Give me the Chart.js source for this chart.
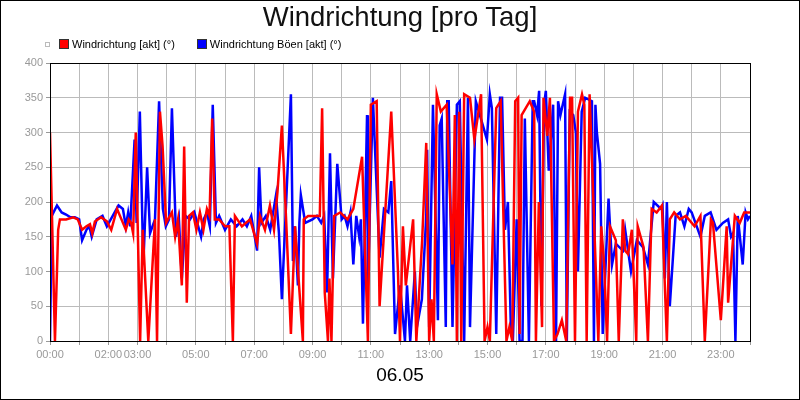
<!DOCTYPE html>
<html><head><meta charset="utf-8">
<script src="https://cdn.jsdelivr.net/npm/chart.js@4"></script>
<style>
body{margin:0;background:#fff;font-family:"Liberation Sans",Arial,sans-serif}
#wrap{position:relative;width:800px;height:400px}
#frame{position:absolute;left:0;top:0;width:798px;height:398px;border:1px solid #000;pointer-events:none}
#title{position:absolute;left:0;width:800px;top:1px;text-align:center;font-size:27.5px;color:#111}
#legend{position:absolute;top:38px;left:45px;font-size:11px;color:#000;display:flex;align-items:center}
.sq{display:inline-block;width:8px;height:8px;border:1px solid #333;margin-right:3px}
#xt{position:absolute;left:0;width:800px;top:364px;text-align:center;font-size:19px;color:#000}
</style></head><body>
<div id="wrap"><canvas id="c" width="800" height="400"></canvas>
<div id="title">Windrichtung [pro Tag]</div>
<div id="legend"><span class="sq" style="width:3px;height:3px;border-color:#bbb;margin-right:9px"></span><span class="sq" style="background:#f00"></span>Windrichtung [akt] (°)<span style="width:22px"></span><span class="sq" style="background:#00f"></span>Windrichtung Böen [akt] (°)</div>
<div id="xt">06.05</div>
<div id="frame"></div></div>
<script>
const tickHours=[0,2,3,5,7,9,11,13,15,17,19,21,23];
const redTimes=[0,0.03,0.17,0.28,0.34,0.55,0.8,0.95,1.1,1.25,1.37,1.45,1.54,1.75,1.95,2.1,2.3,2.45,2.6,2.7,2.78,2.85,2.94,3.09,3.18,3.37,3.6,3.67,3.77,3.86,3.98,4.18,4.29,4.39,4.52,4.6,4.69,4.77,4.9,5.02,5.14,5.26,5.38,5.47,5.56,5.65,5.8,6.0,6.15,6.27,6.34,6.58,6.86,7.1,7.2,7.37,7.54,7.68,7.8,7.95,8.1,8.26,8.4,8.67,8.7,8.85,9.25,9.33,9.42,9.53,9.58,9.65,9.74,9.95,10.2,10.4,10.7,10.9,11.0,11.2,11.3,11.7,11.93,12.0,12.1,12.2,12.45,12.56,12.76,12.9,13.0,13.08,13.16,13.26,13.4,13.6,13.8,13.88,13.95,14.03,14.1,14.2,14.4,14.55,14.78,14.9,15.0,15.08,15.3,15.45,15.65,15.75,15.85,15.95,16.05,16.1,16.17,16.45,16.6,16.66,16.76,16.87,16.92,17.05,17.14,17.28,17.4,17.55,17.7,17.83,17.9,18.0,18.1,18.24,18.32,18.4,18.5,18.8,18.9,19.0,19.1,19.2,19.4,19.5,19.64,19.72,19.82,19.95,20.1,20.15,20.35,20.5,20.63,20.8,20.98,21.15,21.25,21.4,21.6,21.8,22.1,22.3,22.45,22.66,22.73,23.0,23.2,23.25,23.48,23.65,23.8,24.0];
const redValues=[300,300,0,160,175,175,178,175,160,165,168,155,172,178,172,160,190,175,160,175,170,155,300,0,160,0,175,0,330,280,170,185,150,175,80,280,55,180,185,160,185,160,190,180,320,175,175,165,165,0,180,165,175,140,180,160,195,160,215,310,170,10,165,0,175,180,180,335,70,0,90,0,180,185,175,190,265,0,340,345,50,330,100,0,165,80,175,0,145,285,0,60,0,355,330,340,110,325,0,330,0,355,350,290,355,0,20,0,335,345,0,20,0,345,350,10,325,345,330,0,200,20,350,295,350,0,10,30,0,350,350,0,330,355,340,0,355,0,165,110,0,165,145,0,175,130,125,160,0,165,135,0,190,185,195,0,175,185,175,180,165,180,0,175,170,30,165,55,180,170,185,185];
const blueTimes=[0,0.06,0.24,0.4,0.55,0.7,0.85,1.0,1.1,1.25,1.35,1.43,1.6,1.8,1.95,2.15,2.35,2.5,2.6,2.68,2.75,2.9,2.97,3.08,3.2,3.33,3.43,3.6,3.74,3.87,3.97,4.08,4.18,4.32,4.42,4.52,4.65,4.8,4.95,5.18,5.27,5.38,5.48,5.58,5.69,5.8,6.0,6.2,6.4,6.6,6.75,6.9,7.1,7.17,7.25,7.4,7.55,7.75,7.85,7.95,8.26,8.33,8.4,8.5,8.55,8.6,8.75,9.0,9.15,9.3,9.4,9.5,9.6,9.7,9.85,10.0,10.1,10.2,10.3,10.4,10.5,10.6,10.66,10.73,10.87,10.9,11.07,11.3,11.45,11.6,11.7,11.83,12.0,12.17,12.24,12.35,12.51,12.58,12.75,12.9,12.93,13.0,13.13,13.3,13.36,13.43,13.57,13.62,13.67,13.8,13.95,14.05,14.2,14.33,14.4,14.6,14.98,15.08,15.15,15.3,15.43,15.5,15.6,15.7,15.8,15.87,16.0,16.1,16.2,16.28,16.42,16.55,16.6,16.7,16.77,16.85,16.94,17.0,17.1,17.25,17.35,17.42,17.5,17.66,17.72,17.82,17.94,18.03,18.1,18.23,18.35,18.58,18.65,18.7,18.75,18.86,18.95,19.06,19.15,19.27,19.4,19.64,19.72,19.92,20.12,20.33,20.5,20.7,20.95,21.0,21.08,21.15,21.25,21.45,21.6,21.75,21.9,22.0,22.3,22.45,22.65,22.85,23.07,23.25,23.35,23.42,23.5,23.58,23.75,23.85,23.93,24.0];
const blueValues=[0,180,195,185,182,178,178,175,145,160,165,150,175,180,165,180,195,190,165,185,165,290,170,330,110,250,155,175,345,190,165,175,335,150,175,90,180,175,185,150,175,185,165,340,170,180,160,175,165,175,165,180,130,250,170,180,160,210,155,60,355,115,165,80,170,210,170,175,180,170,180,70,270,90,255,175,180,165,185,110,180,150,175,25,325,80,350,120,190,185,230,10,80,0,80,0,100,20,60,180,275,20,340,30,310,320,20,345,345,20,340,345,0,350,20,345,290,355,335,10,350,350,160,200,20,0,175,0,0,320,0,345,345,325,360,50,340,360,245,340,0,345,325,355,0,330,325,300,100,330,350,345,0,340,300,255,10,120,205,110,140,130,160,100,145,135,110,200,190,195,90,200,50,180,185,165,190,185,150,180,185,160,170,175,150,155,0,180,110,185,175,180,75,160];
const toPts=(t,v)=>t.map((x,i)=>({x:x,y:v[i]}));
const border={id:'b',afterDraw(c){const a=c.chartArea,g=c.ctx;g.save();g.strokeStyle='#000';g.lineWidth=1;g.strokeRect(a.left+0.5,a.top+0.5,a.right-a.left,a.bottom-a.top);g.restore();}};
new Chart(document.getElementById('c'),{type:'line',
data:{datasets:[
{label:'Windrichtung [akt] (°)',data:toPts(redTimes,redValues),borderColor:'#ff0000',borderWidth:2.5,pointRadius:0,tension:0,order:0},
{label:'Windrichtung Böen [akt] (°)',data:toPts(blueTimes,blueValues),borderColor:'#0000ff',borderWidth:2.5,pointRadius:0,tension:0,order:1}]},
options:{responsive:false,animation:false,layout:{padding:{top:63,right:50,left:0,bottom:0}},
plugins:{legend:{display:false},tooltip:{enabled:false}},
scales:{
x:{type:'linear',min:0,max:24,afterFit(s){s.height=59},
 ticks:{stepSize:1,autoSkip:false,maxRotation:0,color:'#999',font:{size:11,family:'Liberation Sans'},callback:v=>tickHours.includes(v)?String(v).padStart(2,'0')+':00':''},
 grid:{color:'#bbb',tickLength:4,tickColor:'#999'},border:{color:'#000'}},
y:{min:0,max:400,afterFit(s){s.width=50},
 ticks:{stepSize:50,color:'#999',font:{size:11,family:'Liberation Sans'}},
 grid:{color:'#bbb',tickLength:4,tickColor:'#999'},border:{color:'#000'}}}},
plugins:[border]});
</script></body></html>
